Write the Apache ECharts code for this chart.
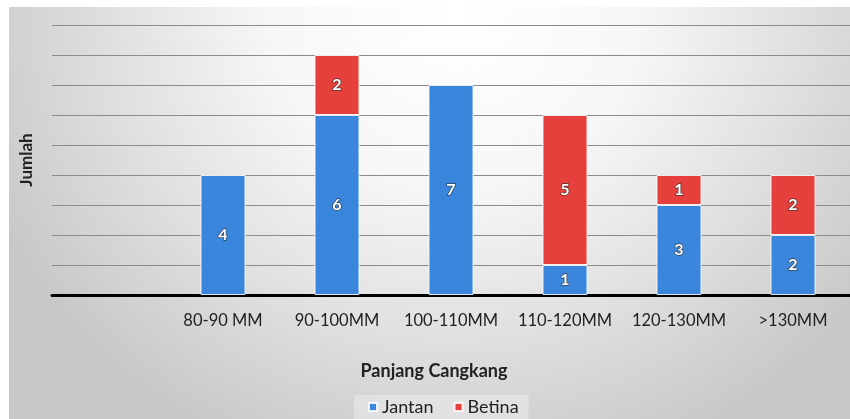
<!DOCTYPE html>
<html>
<head>
<meta charset="utf-8">
<script src="https://cdn.jsdelivr.net/npm/echarts@6/dist/echarts.min.js"></script>
<style>
  html, body { margin: 0; padding: 0; background: #ffffff; }
  #wrap { position: relative; width: 850px; height: 419px; overflow: hidden; }
  #bg {
    position: absolute; left: 9px; top: 7px; right: 0; bottom: 0;
    background: radial-gradient(ellipse 60% 115% at 53% 2%, #ffffff 0%, #f7f7f7 36%, #e0e0e0 68%, #c8c8c8 100%);
  }
  #chart { position: absolute; left: 0; top: 0; width: 850px; height: 419px; }
</style>
</head>
<body>
<div id="wrap">
  <div id="bg"></div>
  <div id="chart"></div>
</div>
<script>
// Shell length classes (first slot left empty on purpose)
const categories = ['', '80-90 MM', '90-100MM', '100-110MM', '110-120MM', '120-130MM', '>130MM'];
// Counts per class
const jantan = [null, 4, 6, 7, 1, 3, 2];
const betina = [null, null, 2, null, 5, 1, 2];
const seriesNames = ['Jantan', 'Betina'];
const yMax = 9;

const FONT = 'Lato, "Open Sans", sans-serif';

const labelStyle = {
  show: true,
  position: 'inside',
  color: '#ffffff',
  fontFamily: FONT,
  fontWeight: 'bold',
  fontSize: 16,
  textBorderColor: 'rgba(40,40,40,0.75)',
  textBorderWidth: 1.4,
  formatter: p => (p.value ? String(p.value) : '')
};

const chart = echarts.init(document.getElementById('chart'), null, { renderer: 'canvas' });
chart.setOption({
  backgroundColor: 'transparent',
  animation: false,
  title: [{
    text: 'Panjang Cangkang',
    left: 429, top: 357, textAlign: 'center',
    textStyle: { fontFamily: FONT, fontWeight: 'bold', fontSize: 18, color: '#222' }
  }],
  legend: {
    data: seriesNames,
    left: 354, top: 395,
    icon: 'rect', itemWidth: 8, itemHeight: 8, itemGap: 20,
    padding: [3, 10, 5, 14],
    backgroundColor: 'rgba(255,255,255,0.3)',
    textStyle: { fontFamily: FONT, fontSize: 18, color: '#222' }
  },
  grid: { left: 52, top: 25, width: 805, height: 270, containLabel: false },
  xAxis: {
    type: 'category',
    data: categories,
    axisLine: { lineStyle: { color: '#000', width: 3 } },
    axisTick: { show: false },
    axisLabel: { margin: 17, fontFamily: FONT, fontSize: 16.5, color: '#222', interval: 0 }
  },
  yAxis: {
    type: 'value',
    min: 0, max: yMax, interval: 1,
    name: 'Jumlah',
    nameLocation: 'middle',
    nameGap: 17,
    nameRotate: 90,
    nameTextStyle: { fontFamily: FONT, fontWeight: 'bold', fontSize: 17, color: '#222' },
    axisLine: { show: false },
    axisTick: { show: false },
    axisLabel: { show: false },
    splitLine: { lineStyle: { color: '#8c8c8c', width: 1 } }
  },
  series: [
    {
      name: 'Jantan', type: 'bar', stack: 'total', data: jantan, barWidth: 45,
      itemStyle: { color: '#3b86dd', borderColor: 'rgba(255,255,255,0.85)', borderWidth: 1 },
      label: labelStyle
    },
    {
      name: 'Betina', type: 'bar', stack: 'total', data: betina, barWidth: 45,
      itemStyle: { color: '#e5403b', borderColor: 'rgba(255,255,255,0.85)', borderWidth: 1 },
      label: labelStyle
    }
  ]
});
</script>
</body>
</html>
